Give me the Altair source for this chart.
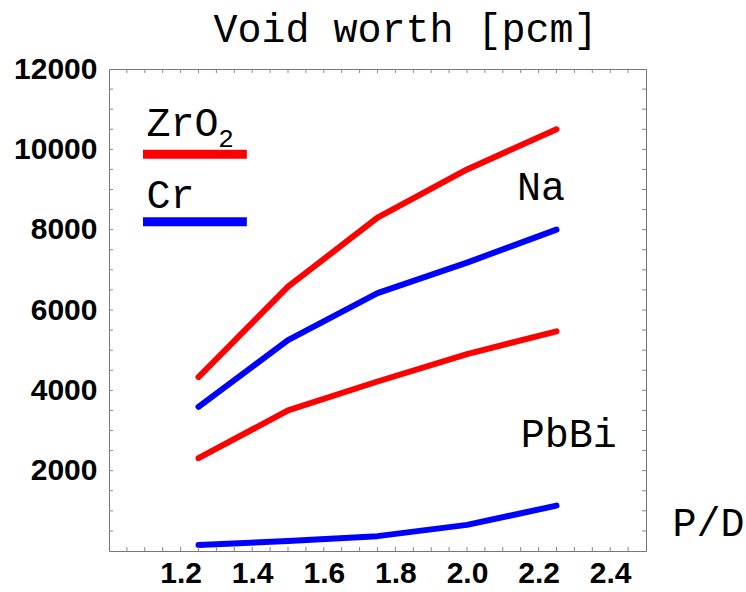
import altair as alt
import pandas as pd

# ---- data ----
x_pd = [1.25, 1.5, 1.75, 2.0, 2.25]
na_zro2 = [4330, 6580, 8300, 9500, 10500]
na_cr = [3590, 5250, 6420, 7180, 8000]
pbbi_zro2 = [2310, 3500, 4220, 4900, 5470]
pbbi_cr = [150, 250, 370, 650, 1130]

x_tick_labels = [1.2, 1.4, 1.6, 1.8, 2.0, 2.2, 2.4]
y_tick_labels = [2000, 4000, 6000, 8000, 10000, 12000]
x_minor = [round(1.0 + 0.05 * i, 2) for i in range(1, 30)]
y_minor = [500 * i for i in range(1, 24)]

materials = ["ZrO2", "Cr"]
colors = ["#ff0000", "#0000ff"]

# legend (manual, as in the original)
leg_material = ["ZrO2", "Cr"]
leg_x1 = [1.095, 1.095]
leg_x2 = [1.385, 1.385]
leg_y = [9880, 8200]

# annotations
ann_text = ["ZrO", "Cr", "Na", "PbBi"]
ann_x = [1.105, 1.105, 2.14, 2.15]
ann_y = [10330, 8540, 8740, 2600]
sub_text = ["2"]
sub_x = [1.305]
sub_y = [10060]

W, H = 537, 482

rows = []
for coolant, mat, vals in [("Na", "ZrO2", na_zro2), ("Na", "Cr", na_cr),
                           ("PbBi", "ZrO2", pbbi_zro2), ("PbBi", "Cr", pbbi_cr)]:
    for x, v in zip(x_pd, vals):
        rows.append({"pd": x, "worth": v, "material": mat, "series": coolant + " " + mat})
df = pd.DataFrame(rows)

xscale = alt.Scale(domain=[1.0, 2.5], nice=False, zero=False)
yscale = alt.Scale(domain=[0, 12000], nice=False, zero=False)
cscale = alt.Scale(domain=materials, range=colors)

label_style = dict(labelFont="Liberation Sans", labelFontWeight="bold", labelFontSize=30,
                   labelColor="black")
xaxis = alt.Axis(values=x_tick_labels, format=".1f", ticks=False, domain=False, grid=False,
                 labelPadding=7, title="P/D", titleFont="Liberation Mono", titleFontSize=40,
                 titleFontWeight="normal", titleColor="black", titleX=563, titleY=-16,
                 titleAlign="left", titleBaseline="alphabetic", titleAngle=0, **label_style)
yaxis = alt.Axis(values=y_tick_labels, format="d", ticks=False, domain=False, grid=False,
                 labelPadding=12, title="", **label_style)


def X(field):
    return alt.X(field, scale=xscale, axis=xaxis)


def Y(field):
    return alt.Y(field, scale=yscale, axis=yaxis)


lines = alt.Chart(df).mark_line(strokeWidth=6, strokeCap="round", strokeJoin="round").encode(
    x=X("pd:Q"),
    y=Y("worth:Q"),
    color=alt.Color("material:N", scale=cscale, legend=None),
    detail="series:N",
)

xt = pd.DataFrame({"t": x_minor})
yt = pd.DataFrame({"t": y_minor})
tick_style = dict(color="#888888", strokeWidth=1)
bottom_ticks = alt.Chart(xt).mark_rule(**tick_style).encode(
    x=X("t:Q"), y=alt.value(H), y2=alt.value(H - 4))
top_ticks = alt.Chart(xt).mark_rule(**tick_style).encode(
    x=X("t:Q"), y=alt.value(0), y2=alt.value(4))
left_ticks = alt.Chart(yt).mark_rule(**tick_style).encode(
    y=Y("t:Q"), x=alt.value(0), x2=alt.value(4))
right_ticks = alt.Chart(yt).mark_rule(**tick_style).encode(
    y=Y("t:Q"), x=alt.value(W), x2=alt.value(W - 4))

leg_df = pd.DataFrame({"material": leg_material, "x1": leg_x1, "x2": leg_x2, "y": leg_y})
legend_bars = alt.Chart(leg_df).mark_rule(strokeWidth=9, strokeCap="butt").encode(
    x=X("x1:Q"), x2="x2:Q",
    y=Y("y:Q"),
    color=alt.Color("material:N", scale=cscale, legend=None),
)

ann_df = pd.DataFrame({"text": ann_text, "x": ann_x, "y": ann_y})
ann = alt.Chart(ann_df).mark_text(font="Liberation Mono", fontSize=40, align="left",
                                  baseline="alphabetic", color="black").encode(
    x=X("x:Q"), y=Y("y:Q"), text="text:N")

sub_df = pd.DataFrame({"text": sub_text, "x": sub_x, "y": sub_y})
sub = alt.Chart(sub_df).mark_text(font="Liberation Mono", fontSize=26, align="left",
                                  baseline="alphabetic", color="black").encode(
    x=X("x:Q"), y=Y("y:Q"), text="text:N")

chart = alt.layer(lines, bottom_ticks, top_ticks, left_ticks, right_ticks, legend_bars, ann, sub).properties(
    width=W, height=H,
    title=alt.TitleParams("Void worth [pcm]", font="Liberation Mono", fontSize=40, fontWeight="normal",
                          color="black", anchor="middle", dx=28, offset=16, baseline="bottom", dy=52),
    autosize="none",
    background="white",
    padding={"left": 109, "top": 69, "right": 100, "bottom": 41},
).configure_view(stroke="#777777", strokeWidth=1)

chart.save("out.html", embed_options={"renderer": "svg", "actions": False})
